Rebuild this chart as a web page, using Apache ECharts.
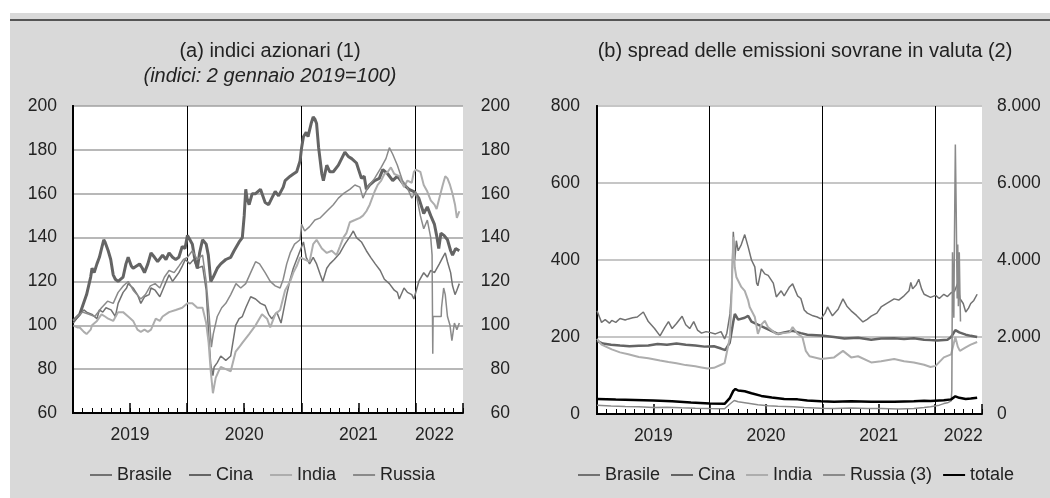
<!DOCTYPE html>
<html><head><meta charset="utf-8">
<script src="https://cdn.jsdelivr.net/npm/echarts@6/dist/echarts.min.js"></script>
<style>
html,body{margin:0;padding:0;background:#fff;}
#bg{position:absolute;left:10px;top:13px;width:1040px;height:485px;background:#d9d9d9;}
#rule{position:absolute;left:10px;top:19px;width:1040px;height:2px;background:#555;}
#chart{position:absolute;left:0;top:0;width:1050px;height:498px;}
</style></head><body>
<div id="bg"></div><div id="rule"></div><div id="chart"></div>
<script>
// ---------- DATA ----------
const yearLabels = ['2019','2020','2021','2022'];
const yearLabelMonthA = [6,18,30,38];
const yearLabelMonthB = [6,18,30,39];
const legendA = ['Brasile','Cina','India','Russia'];
const legendB = ['Brasile','Cina','India','Russia (3)','totale'];

// (a) stock indices, 2 Jan 2019 = 100
const stockBrasile = [['2019-01-02',101],['2019-01-23',105],['2019-02-05',107],['2019-02-13',106],['2019-03-01',105],['2019-03-17',103],['2019-03-25',107],['2019-04-05',106],['2019-04-15',108],['2019-05-01',107],['2019-05-15',104],['2019-05-24',110],['2019-06-09',115],['2019-06-20',117],['2019-06-25',119],['2019-07-11',117],['2019-07-25',114],['2019-08-05',110],['2019-08-17',113],['2019-09-01',114],['2019-09-07',117],['2019-09-20',116],['2019-10-05',113],['2019-10-20',118],['2019-11-04',123],['2019-11-15',120],['2019-11-25',122],['2019-12-05',124],['2019-12-16',127],['2019-12-26',130],['2020-01-10',128],['2020-01-22',130],['2020-02-03',126],['2020-02-19',127],['2020-03-01',116],['2020-03-09',96],['2020-03-16',82],['2020-03-23',77],['2020-03-27',81],['2020-04-06',83],['2020-04-17',86],['2020-05-03',84],['2020-05-19',86],['2020-06-04',100],['2020-06-15',103],['2020-06-25',104],['2020-07-06',108],['2020-07-22',113],['2020-08-07',112],['2020-08-23',110],['2020-09-07',109],['2020-09-18',105],['2020-09-28',103],['2020-10-14',106],['2020-10-28',101],['2020-11-04',106],['2020-11-15',114],['2020-11-26',121],['2020-12-06',126],['2020-12-17',130],['2020-12-28',134],['2021-01-08',138],['2021-01-17',131],['2021-01-28',128],['2021-02-08',131],['2021-02-18',128],['2021-03-01',123],['2021-03-09',120],['2021-03-22',126],['2021-04-01',128],['2021-04-15',130],['2021-05-03',133],['2021-05-19',137],['2021-06-07',141],['2021-06-15',143],['2021-06-25',140],['2021-07-11',138],['2021-07-27',134],['2021-08-10',131],['2021-08-25',128],['2021-09-10',125],['2021-09-23',121],['2021-10-09',119],['2021-10-25',116],['2021-11-04',115],['2021-11-10',112],['2021-11-25',117],['2021-12-06',115],['2021-12-20',114],['2021-12-27',112],['2022-01-12',120],['2022-01-28',124],['2022-02-08',122],['2022-02-18',125],['2022-03-01',124],['2022-03-17',128],['2022-03-28',131],['2022-04-05',133],['2022-04-12',129],['2022-04-22',124],['2022-04-28',118],['2022-05-06',114],['2022-05-12',116],['2022-05-20',119]];
const stockCina = [['2019-01-02',102],['2019-01-23',105],['2019-02-13',114],['2019-02-25',122],['2019-03-01',126],['2019-03-08',124],['2019-03-17',128],['2019-03-25',131],['2019-04-01',135],['2019-04-08',139],['2019-04-12',138],['2019-04-22',134],['2019-04-30',130],['2019-05-08',123],['2019-05-15',121],['2019-05-24',120],['2019-06-09',122],['2019-06-18',128],['2019-06-25',131],['2019-07-05',127],['2019-07-11',126],['2019-08-01',128],['2019-08-10',126],['2019-08-17',124],['2019-08-28',128],['2019-09-07',133],['2019-09-18',131],['2019-09-28',129],['2019-10-14',132],['2019-10-25',130],['2019-11-04',133],['2019-11-15',131],['2019-11-25',130],['2019-12-05',131],['2019-12-16',136],['2019-12-25',135],['2020-01-02',141],['2020-01-10',139],['2020-01-18',137],['2020-01-25',131],['2020-02-03',126],['2020-02-10',133],['2020-02-19',139],['2020-03-01',137],['2020-03-08',132],['2020-03-16',120],['2020-03-24',122],['2020-04-06',126],['2020-04-17',128],['2020-05-03',130],['2020-05-19',131],['2020-05-30',134],['2020-06-15',138],['2020-06-25',140],['2020-07-01',150],['2020-07-06',162],['2020-07-10',158],['2020-07-17',155],['2020-07-27',160],['2020-08-07',160],['2020-08-23',162],['2020-09-07',156],['2020-09-18',155],['2020-09-28',158],['2020-10-09',161],['2020-10-20',159],['2020-11-04',163],['2020-11-10',166],['2020-11-26',168],['2020-12-06',169],['2020-12-17',170],['2020-12-28',175],['2021-01-02',181],['2021-01-08',186],['2021-01-17',188],['2021-01-23',186],['2021-01-28',189],['2021-02-02',192],['2021-02-08',195],['2021-02-13',194],['2021-02-18',192],['2021-02-24',181],['2021-03-06',169],['2021-03-11',166],['2021-03-22',173],['2021-04-01',170],['2021-04-12',170],['2021-04-28',173],['2021-05-19',179],['2021-05-30',177],['2021-06-10',176],['2021-06-25',174],['2021-07-11',167],['2021-07-20',168],['2021-07-27',162],['2021-08-07',164],['2021-08-23',166],['2021-09-07',167],['2021-09-18',171],['2021-10-04',169],['2021-10-20',166],['2021-11-04',168],['2021-11-25',164],['2021-12-11',162],['2021-12-27',161],['2022-01-12',158],['2022-01-28',151],['2022-02-08',154],['2022-02-18',150],['2022-03-01',146],['2022-03-08',141],['2022-03-15',135],['2022-03-22',142],['2022-04-01',141],['2022-04-12',139],['2022-04-22',134],['2022-04-28',132],['2022-05-08',135],['2022-05-20',134]];
const stockIndia = [['2019-01-02',100],['2019-01-15',99],['2019-01-23',99],['2019-02-05',97],['2019-02-13',96],['2019-02-25',98],['2019-03-01',100],['2019-03-17',102],['2019-04-01',105],['2019-04-12',104],['2019-04-22',103],['2019-05-08',102],['2019-05-24',106],['2019-06-09',106],['2019-06-25',104],['2019-07-11',102],['2019-07-25',98],['2019-08-05',97],['2019-08-17',98],['2019-08-28',97],['2019-09-07',98],['2019-09-22',103],['2019-10-05',102],['2019-10-14',104],['2019-11-04',106],['2019-11-25',107],['2019-12-16',108],['2020-01-02',110],['2020-01-18',110],['2020-02-03',108],['2020-02-19',108],['2020-03-01',101],['2020-03-09',92],['2020-03-16',79],['2020-03-23',69],['2020-04-01',76],['2020-04-10',79],['2020-04-17',81],['2020-05-03',80],['2020-05-19',79],['2020-06-04',88],['2020-06-15',90],['2020-06-25',92],['2020-07-17',96],['2020-08-07',100],['2020-08-28',105],['2020-09-13',103],['2020-09-23',99],['2020-10-09',105],['2020-10-25',107],['2020-11-10',116],['2020-11-26',120],['2020-12-06',124],['2020-12-17',127],['2020-12-28',131],['2021-01-12',130],['2021-01-28',129],['2021-02-08',137],['2021-02-18',139],['2021-03-06',135],['2021-03-22',133],['2021-04-07',134],['2021-04-22',132],['2021-05-03',136],['2021-05-14',140],['2021-05-24',142],['2021-06-04',147],['2021-06-20',148],['2021-07-06',149],['2021-07-16',150],['2021-07-27',152],['2021-08-07',155],['2021-08-23',161],['2021-09-02',164],['2021-09-13',166],['2021-09-23',169],['2021-10-04',170],['2021-10-14',172],['2021-10-25',169],['2021-11-10',168],['2021-11-25',163],['2021-12-06',166],['2021-12-20',165],['2021-12-27',170],['2022-01-02',171],['2022-01-17',170],['2022-01-28',164],['2022-02-08',161],['2022-02-18',157],['2022-03-01',155],['2022-03-08',153],['2022-03-17',158],['2022-03-28',164],['2022-04-05',168],['2022-04-12',167],['2022-04-20',164],['2022-04-28',160],['2022-05-06',155],['2022-05-12',149],['2022-05-20',152]];
const stockRussia = [['2019-01-02',102],['2019-01-15',104],['2019-02-01',106],['2019-02-20',105],['2019-03-10',104],['2019-04-01',108],['2019-04-20',111],['2019-05-08',110],['2019-05-24',115],['2019-06-10',118],['2019-06-25',120],['2019-07-11',116],['2019-08-05',112],['2019-08-20',114],['2019-09-05',118],['2019-09-20',119],['2019-10-05',117],['2019-10-20',122],['2019-11-04',125],['2019-11-20',124],['2019-12-05',127],['2019-12-20',130],['2020-01-02',131],['2020-01-18',134],['2020-02-03',130],['2020-02-19',132],['2020-03-01',120],['2020-03-11',104],['2020-03-18',90],['2020-03-24',96],['2020-04-06',104],['2020-04-20',108],['2020-05-03',110],['2020-05-19',114],['2020-06-05',119],['2020-06-20',117],['2020-07-06',119],['2020-07-22',124],['2020-08-07',129],['2020-08-20',128],['2020-09-07',124],['2020-09-23',120],['2020-10-09',118],['2020-10-25',117],['2020-11-04',121],['2020-11-15',128],['2020-11-26',133],['2020-12-10',137],['2020-12-28',139],['2021-01-02',146],['2021-01-12',143],['2021-01-28',145],['2021-02-13',148],['2021-03-01',149],['2021-03-22',152],['2021-04-12',155],['2021-04-28',158],['2021-05-14',160],['2021-06-04',162],['2021-06-20',164],['2021-07-06',163],['2021-07-16',158],['2021-08-01',163],['2021-08-23',167],['2021-09-13',172],['2021-09-28',176],['2021-10-09',181],['2021-10-20',178],['2021-11-04',173],['2021-11-20',166],['2021-12-05',163],['2021-12-20',158],['2022-01-02',161],['2022-01-17',150],['2022-01-28',144],['2022-02-08',148],['2022-02-18',140],['2022-02-22',132],['2022-02-24',87],['2022-02-25',104],['2022-03-23',104],['2022-03-24',108],['2022-03-31',117],['2022-04-05',114],['2022-04-12',104],['2022-04-20',100],['2022-04-26',93],['2022-05-04',101],['2022-05-12',98],['2022-05-20',101]];

// (b) sovereign spreads (Brasile, Cina, India: left axis; Russia, totale: right axis)
const spreadBrasile = [['2019-01-01',268],['2019-01-10',250],['2019-01-16',238],['2019-01-28',245],['2019-02-10',236],['2019-02-17',243],['2019-03-01',238],['2019-03-15',248],['2019-04-01',244],['2019-04-11',247],['2019-04-25',250],['2019-05-10',252],['2019-05-30',265],['2019-06-15',240],['2019-07-05',222],['2019-07-23',203],['2019-08-08',225],['2019-08-20',240],['2019-09-01',222],['2019-09-15',235],['2019-10-03',254],['2019-10-15',232],['2019-10-28',222],['2019-11-10',240],['2019-11-22',218],['2019-12-05',210],['2019-12-20',214],['2020-01-01',212],['2020-01-20',208],['2020-02-07',214],['2020-02-18',195],['2020-02-25',210],['2020-03-06',260],['2020-03-12',330],['2020-03-17',473],['2020-03-22',400],['2020-03-27',450],['2020-04-02',424],['2020-04-12',440],['2020-04-23',466],['2020-05-04',434],['2020-05-15',400],['2020-05-26',382],['2020-06-01',340],['2020-06-05',333],['2020-06-16',377],['2020-06-27',364],['2020-07-08',360],['2020-07-25',340],['2020-08-04',304],['2020-08-20',320],['2020-08-30',307],['2020-09-16',330],['2020-09-26',338],['2020-10-12',307],['2020-10-23',300],['2020-11-03',270],['2020-11-13',262],['2020-12-01',255],['2020-12-15',252],['2020-12-27',247],['2021-01-10',262],['2021-01-18',278],['2021-02-03',255],['2021-02-20',272],['2021-03-07',299],['2021-03-20',280],['2021-04-03',268],['2021-04-20',256],['2021-05-11',239],['2021-05-25',246],['2021-06-07',254],['2021-06-25',262],['2021-07-09',278],['2021-07-25',286],['2021-08-21',299],['2021-09-05',296],['2021-09-22',307],['2021-10-08',320],['2021-10-14',342],['2021-10-20',325],['2021-10-24',320],['2021-11-01',336],['2021-11-09',350],['2021-11-18',325],['2021-11-26',311],['2021-12-17',303],['2022-01-03',308],['2022-01-15',300],['2022-01-30',311],['2022-02-10',305],['2022-02-21',315],['2022-03-03',318],['2022-03-14',340],['2022-03-21',300],['2022-04-01',287],['2022-04-09',265],['2022-04-18',275],['2022-04-25',287],['2022-05-05',295],['2022-05-16',311]];
const spreadCina = [['2019-01-01',190],['2019-01-20',183],['2019-02-15',180],['2019-03-15',178],['2019-04-15',176],['2019-05-15',177],['2019-06-15',178],['2019-07-15',182],['2019-08-15',180],['2019-09-15',183],['2019-10-15',180],['2019-11-15',178],['2019-12-15',175],['2020-01-15',176],['2020-02-07',170],['2020-02-20',166],['2020-03-05',185],['2020-03-17',240],['2020-03-22',260],['2020-04-02',245],['2020-04-23',250],['2020-05-04',255],['2020-05-15',240],['2020-06-05',232],['2020-07-08',220],['2020-08-09',208],['2020-08-30',212],['2020-09-26',216],['2020-10-23',210],['2020-11-13',206],['2020-12-27',204],['2021-02-08',200],['2021-03-12',196],['2021-04-25',198],['2021-06-07',193],['2021-07-09',196],['2021-08-21',197],['2021-09-22',195],['2021-10-24',197],['2021-11-26',193],['2021-12-17',192],['2022-01-08',191],['2022-02-10',193],['2022-02-21',200],['2022-03-06',218],['2022-03-19',212],['2022-04-09',206],['2022-04-25',203],['2022-05-16',200]];
const spreadIndia = [['2019-01-01',195],['2019-01-16',180],['2019-02-17',168],['2019-03-15',160],['2019-04-11',155],['2019-05-15',148],['2019-06-15',145],['2019-07-23',139],['2019-08-20',135],['2019-09-15',132],['2019-10-15',127],['2019-11-15',124],['2019-12-05',121],['2019-12-25',118],['2020-01-15',120],['2020-02-07',128],['2020-02-18',132],['2020-03-06',200],['2020-03-12',330],['2020-03-17',460],['2020-03-22',380],['2020-03-27',356],['2020-04-12',330],['2020-04-23',320],['2020-05-04',295],['2020-05-09',278],['2020-05-26',252],['2020-06-05',208],['2020-06-16',232],['2020-06-27',242],['2020-07-08',225],['2020-08-04',208],['2020-09-16',212],['2020-09-26',226],['2020-10-12',208],['2020-10-28',200],['2020-11-08',164],['2020-11-20',150],['2020-12-27',143],['2021-02-08',147],['2021-03-07',164],['2021-04-03',147],['2021-04-25',150],['2021-06-07',134],['2021-07-09',137],['2021-08-21',143],['2021-09-22',137],['2021-10-24',134],['2021-11-26',128],['2021-12-17',122],['2022-01-03',125],['2022-01-30',147],['2022-02-21',155],['2022-03-06',200],['2022-03-14',175],['2022-03-21',164],['2022-04-09',173],['2022-04-25',180],['2022-05-16',187]];
const spreadRussia = [['2019-01-01',230],['2019-02-15',210],['2019-04-01',195],['2019-05-15',190],['2019-07-01',170],['2019-08-15',175],['2019-10-01',160],['2019-11-15',150],['2020-01-01',140],['2020-02-18',135],['2020-03-06',260],['2020-03-20',350],['2020-04-02',320],['2020-05-04',280],['2020-06-05',240],['2020-07-08',215],['2020-08-09',200],['2020-09-26',190],['2020-11-03',170],['2020-12-27',150],['2021-02-08',140],['2021-04-03',155],['2021-05-25',140],['2021-07-09',140],['2021-09-05',130],['2021-10-24',140],['2021-11-26',170],['2021-12-17',190],['2022-01-15',230],['2022-01-30',270],['2022-02-10',290],['2022-02-21',340],['2022-02-23',600],['2022-02-25',4200],['2022-03-01',2500],['2022-03-03',4500],['2022-03-06',7000],['2022-03-09',5200],['2022-03-12',3000],['2022-03-14',4400],['2022-03-16',2800],['2022-03-19',4200],['2022-03-21',3200],['2022-03-23',2400]];
const spreadTotale = [['2019-01-01',390],['2019-03-01',375],['2019-05-01',365],['2019-07-01',350],['2019-09-01',330],['2019-11-01',300],['2020-01-01',275],['2020-02-18',265],['2020-03-06',420],['2020-03-17',600],['2020-03-24',650],['2020-04-02',610],['2020-04-23',590],['2020-05-15',540],['2020-06-16',470],['2020-07-20',430],['2020-08-30',390],['2020-10-12',380],['2020-11-13',350],['2020-12-27',330],['2021-02-08',320],['2021-04-03',330],['2021-06-07',315],['2021-08-21',320],['2021-10-24',330],['2021-11-26',345],['2021-12-17',340],['2022-01-30',360],['2022-02-21',380],['2022-03-06',460],['2022-03-19',420],['2022-04-09',390],['2022-04-25',400],['2022-05-16',420]];

// ---------- CHART ----------
const FONT = '"Liberation Sans", Arial, Helvetica, sans-serif';
const TXT = '#222';
function toMonths(s){const p=s.split('-').map(Number);const dim=new Date(p[0],p[1],0).getDate();return (p[0]-2019)*12+(p[1]-1)+(p[2]-1)/dim;}
function pts(arr){return arr.map(d=>[toMonths(d[0]),d[1]]);}
function dots(v){return String(v).replace(/\B(?=(\d{3})+(?!\d))/g,'.');}

function monthAxis(gi, labelMonths){
  return {type:'value',gridIndex:gi,position:'bottom',min:0,max:41,interval:1,
    axisLine:{show:true,onZero:false,lineStyle:{color:'#000',width:2}},
    axisTick:{show:true,inside:true,length:5,lineStyle:{color:'#000',width:1}},
    axisLabel:{show:true,margin:13,fontSize:17.5,color:TXT,fontFamily:FONT,
      formatter:v=>{const i=labelMonths.indexOf(Math.round(v));return i>=0?yearLabels[i]:'';}},
    splitLine:{show:true,lineStyle:{color:['#000'].concat(Array(11).fill('rgba(0,0,0,0)')),width:1}}};
}
function semiAxis(gi){
  return {type:'value',gridIndex:gi,position:'bottom',min:0,max:41,interval:6,
    axisLine:{show:false},axisLabel:{show:false},splitLine:{show:false},
    axisTick:{show:true,inside:true,length:10,lineStyle:{color:'#000',width:1.5}}};
}
function yAxis(gi,pos,min,max,interval,margin,align,split,fmt){
  return {type:'value',gridIndex:gi,position:pos,min:min,max:max,interval:interval,
    axisLine:{show:true,lineStyle:{color:'#000',width:2}},axisTick:{show:false},
    axisLabel:{margin:margin,align:align,fontSize:17.5,color:TXT,fontFamily:FONT,formatter:fmt||(v=>String(v))},
    splitLine:split?{show:true,lineStyle:split}:{show:false}};
}
function line(name,data,xi,yi,color,width){
  return {type:'line',name:name,data:pts(data),xAxisIndex:xi,yAxisIndex:yi,showSymbol:false,symbol:'none',
    lineStyle:{color:color,width:width},itemStyle:{color:color},emphasis:{disabled:true}};
}

const C_BR='#727272', C_CN='#646464', C_IN='#adadad', C_RU='#8a8a8a';

const option = {
  animation:false,
  title:[
    {text:'(a) indici azionari (1)',subtext:'(indici: 2 gennaio 2019=100)',left:265,top:35,textAlign:'center',itemGap:3,
     textStyle:{fontSize:20,fontWeight:'normal',color:TXT,fontFamily:FONT,lineHeight:22},
     subtextStyle:{fontSize:20,fontStyle:'italic',color:TXT,fontFamily:FONT,lineHeight:22}},
    {text:'(b) spread delle emissioni sovrane in valuta (2)',left:800,top:35,textAlign:'center',
     textStyle:{fontSize:20,fontWeight:'normal',color:TXT,fontFamily:FONT,lineHeight:22}}
  ],
  legend:[
    {data:legendA,left:90,top:466,padding:0,itemGap:17,itemWidth:22,itemHeight:2,icon:'rect',
     textStyle:{fontSize:18,color:TXT,fontFamily:FONT},selectedMode:false},
    {data:legendB,left:578,top:466,padding:0,itemGap:11,itemWidth:22,itemHeight:2,icon:'rect',
     textStyle:{fontSize:18,color:TXT,fontFamily:FONT},selectedMode:false}
  ],
  grid:[
    {left:73,top:106,width:390,height:307,show:true,backgroundColor:'#fff',borderWidth:0},
    {left:597,top:106,width:385,height:308,show:true,backgroundColor:'#fff',borderWidth:0}
  ],
  xAxis:[monthAxis(0,yearLabelMonthA),semiAxis(0),monthAxis(1,yearLabelMonthB),semiAxis(1)],
  yAxis:[
    yAxis(0,'left',60,200,20,16,'right',{color:'#a0a0a0',width:1.5}),
    yAxis(0,'right',60,200,20,47,'right',null),
    yAxis(1,'left',0,800,200,17,'right',{color:'#c6c6c6',width:2}),
    yAxis(1,'right',0,8000,2000,15,'left',null,v=>dots(v))
  ],
  series:[
    line('Brasile',stockBrasile,0,0,C_BR,1.5),
    line('Cina',stockCina,0,0,C_CN,3),
    line('India',stockIndia,0,0,C_IN,2),
    line('Russia',stockRussia,0,0,C_RU,1.5),
    line('Brasile',spreadBrasile,2,2,C_BR,1.5),
    line('Cina',spreadCina,2,2,C_CN,2.5),
    line('India',spreadIndia,2,2,C_IN,2),
    line('Russia (3)',spreadRussia,2,3,C_RU,1.5),
    line('totale',spreadTotale,2,3,'#000',2.5)
  ]
};
const chart = echarts.init(document.getElementById('chart'),null,{renderer:'canvas'});
chart.setOption(option);
</script></body></html>
